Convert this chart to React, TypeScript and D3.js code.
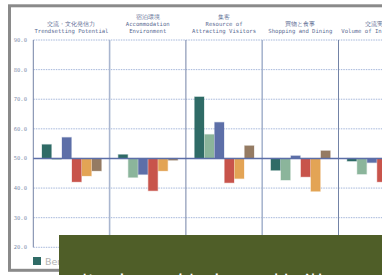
import { FC } from 'react';
import * as d3 from 'd3';

// categories (Japanese / English lines)
const catJa = ['交流・文化発信力', '宿泊環境', '集客', '買物と食事', '交流実績'];
const catEn = [
  ['Trendsetting Potential'],
  ['Accommodation', 'Environment'],
  ['Resource of', 'Attracting Visitors'],
  ['Shopping and Dining'],
  ['Volume of Interaction'],
];
const series = ['Berlin', 'London', 'Paris', 'New York', 'Singapore', 'Tokyo'];
const colors = ['#2f6b66', '#8bb59b', '#5d6fa8', '#c8544b', '#e3a455', '#957b63'];
// values per series, one per category
const values = [
  [54.7, 51.3, 70.8, 46.0, 49.1],
  [49.7, 43.6, 58.1, 42.7, 44.7],
  [57.1, 44.6, 62.2, 50.9, 48.6],
  [42.1, 39.1, 41.8, 43.8, 42.1],
  [44.1, 45.8, 43.2, 38.9, 46.0],
  [45.8, 49.4, 54.3, 52.6, 51.0],
];
const yTicks = [20, 30, 40, 50, 60, 70, 80, 90];
const titleText = '都市の魅力の特徴';

const App: FC = () => {
  const left = 33.3;
  const band = 76.3;
  const x = d3
    .scaleBand<string>()
    .domain(catJa)
    .range([left, left + band * catJa.length])
    .padding(0);
  const xs = d3.scaleBand<string>().domain(series).range([8.4, 68.4]).padding(0);
  const y = d3.scaleLinear().domain([20, 90]).range([247.3, 40]);
  const base = 50;
  const rightEdge = left + band * catJa.length;
  const mono = "'DejaVu Sans Mono', monospace";

  return (
    <div style={{ position: 'fixed', left: 0, top: 0, width: 382, height: 275, overflow: 'hidden', background: '#fff' }}>
      <svg width={382} height={275} style={{ display: 'block' }}>
        {/* frame */}
        <rect x={9.5} y={5.8} width={500} height={264.5} fill="#fff" stroke="#8a8a8a" strokeWidth={3} />

        {/* grid */}
        {yTicks.filter(t => t !== base).map(t => (
          <line key={t} x1={left} x2={rightEdge} y1={y(t)} y2={y(t)} stroke="#a4b6da" strokeWidth={1} strokeDasharray="1.5,1" />
        ))}
        {yTicks.map(t => (
          <text key={'l' + t} x={27} y={y(t) + 2} textAnchor="end" fontSize={5.5} fill="#8290ae" fontFamily={mono}>
            {t.toFixed(1)}
          </text>
        ))}

        {/* category separators */}
        {catJa.map((c, i) => (
          <line key={'v' + c} x1={x(c)!} x2={x(c)!} y1={y(90)} y2={y(20)} stroke={i % 2 ? '#a9b6cf' : '#7383a6'} strokeWidth={i % 2 ? 1.6 : 1} />
        ))}

        {/* category labels */}
        {catJa.map((c, i) => {
          const lines = [c, ...catEn[i]];
          const cx = x(c)! + band / 2;
          return (
            <g key={'t' + c}>
              {lines.map((l, j) => (
                <text key={j} x={cx} y={33 - (lines.length - 1 - j) * 7} textAnchor="middle" fontSize={5.6} fill="#5a6b92" fontFamily={mono}>
                  {l}
                </text>
              ))}
            </g>
          );
        })}

        {/* bars */}
        {series.map((s, si) => (
          <g key={s}>
            {catJa.map((c, ci) => {
              const v = values[si][ci];
              const y0 = Math.min(y(v), y(base));
              const h = Math.abs(y(v) - y(base));
              return (
                <rect
                  key={c}
                  x={x(c)! + xs(s)! + 0.3}
                  y={y0}
                  width={xs.bandwidth() - 0.6}
                  height={Math.max(h, 0.8)}
                  fill={colors[si]}
                  stroke={colors[si]}
                  strokeOpacity={0.25}
                  strokeWidth={1.2}
                />
              );
            })}
          </g>
        ))}

        {/* baseline */}
        <line x1={left} x2={rightEdge} y1={y(base)} y2={y(base)} stroke="#5b6ea8" strokeWidth={1.4} />

        {/* legend */}
        {series.map((s, i) => (
          <g key={'lg' + s} transform={`translate(${33 + i * 60},257)`}>
            <rect width={8} height={8} fill={colors[i]} />
            <text x={12} y={7.5} fontSize={9.5} fill="#b3b3b3" fontFamily="'DejaVu Sans', sans-serif">
              {s}
            </text>
          </g>
        ))}

        {/* overlay banner */}
        <rect x={59} y={235} width={330} height={45} fill="#4f5e28" />
        <text x={78} y={294} fontSize={24} fill="#ffffff" fontFamily="'Noto Sans CJK JP', sans-serif" letterSpacing={8}>
          {titleText}
        </text>
      </svg>
    </div>
  );
};

export default App;
